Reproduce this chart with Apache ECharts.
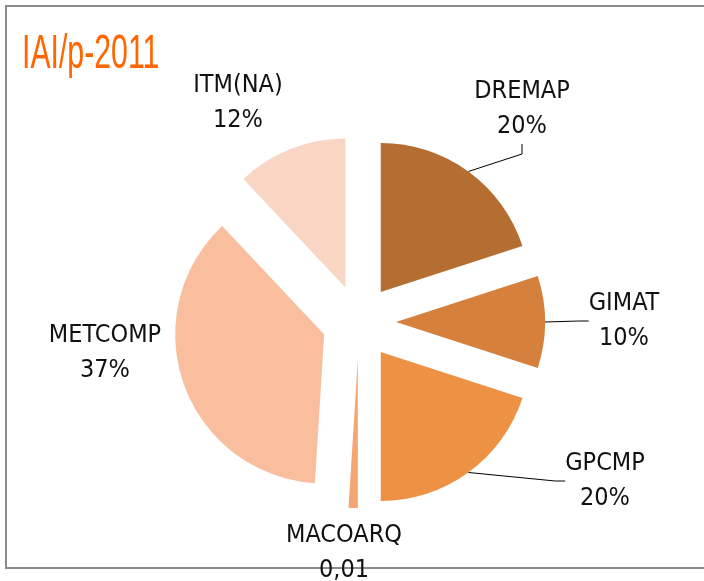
<!DOCTYPE html>
<html>
<head>
<meta charset="utf-8">
<script src="https://cdn.jsdelivr.net/npm/echarts@6/dist/echarts.min.js"></script>
<style>
html,body{margin:0;padding:0;background:#fff;}
#chart{width:704px;height:581px;}
</style>
</head>
<body>
<div id="chart"></div>
<script>
// DATA
const categories=['DREMAP','GIMAT','GPCMP','MACOARQ','METCOMP','ITM(NA)'];
const shares=[20,10,20,1,37,12];
const shareLabels=['20%','10%','20%','0,01','37%','12%'];
const sliceColors=['#b46e32','#d5803c','#ed9245','#f4a674','#f8be9e','#f9d5c4'];

// label anchors (centre of each two-line label), leader line on/off
const labelSpots=[[522,109],[624,321],[605,481],[344,553],[105,353],[238,103]];
const showLines=[true,true,true,false,false,false];

const FONT='"DejaVu Sans Condensed","Liberation Sans",sans-serif';
const PIE_CENTER=[359,322], PIE_R=149, EXPLODE=37;

const chart=echarts.init(document.getElementById('chart'),null,{renderer:'canvas'});

// exploded slices (selected state moves them out)
const sliceData=categories.map((name,i)=>({
  name:name,value:shares[i],selected:true,
  itemStyle:{color:sliceColors[i]}
}));
// invisible ring reaching the exploded rim, only used to carry labels + leader lines
const labelData=categories.map((name,i)=>({
  name:name,value:shares[i],
  labelLine:{show:showLines[i]}
}));

chart.setOption({
  animation:false,
  backgroundColor:'#fff',
  graphic:[{
    type:'rect',silent:true,z:-1,
    shape:{x:6,y:6,width:720,height:562},
    style:{fill:'none',stroke:'#8c8c8c',lineWidth:2}
  },{
    type:'text',silent:true,
    x:22,y:55,scaleX:0.63,originX:0,
    style:{text:'IAI/p-2011',font:'48px "Liberation Sans",Arial,sans-serif',
      fill:'#ff6600',align:'left',verticalAlign:'middle'}
  }],
  series:[{
    type:'pie',
    center:PIE_CENTER,
    radius:PIE_R,
    startAngle:90,
    clockwise:true,
    selectedMode:'multiple',
    selectedOffset:EXPLODE,
    emphasis:{disabled:true},
    select:{itemStyle:{borderWidth:0}},
    label:{show:false},
    labelLine:{show:false},
    data:sliceData
  },{
    type:'pie',
    silent:true,
    center:PIE_CENTER,
    radius:PIE_R+EXPLODE,
    startAngle:90,
    clockwise:true,
    selectedMode:false,
    avoidLabelOverlap:false,
    emphasis:{disabled:true},
    itemStyle:{color:'rgba(0,0,0,0)',borderWidth:0},
    label:{
      position:'outside',
      fontFamily:FONT,fontSize:25,color:'#111',
      lineHeight:35,align:'center',
      formatter:p=>p.name+'\n'+shareLabels[p.dataIndex]
    },
    labelLine:{lineStyle:{color:'#000',width:1},length:10,length2:10},
    labelLayout:function(p){
      const s=labelSpots[p.dataIndex];
      return {x:s[0],y:s[1],align:'center',verticalAlign:'middle'};
    },
    data:labelData
  }]
});
</script>
</body>
</html>
